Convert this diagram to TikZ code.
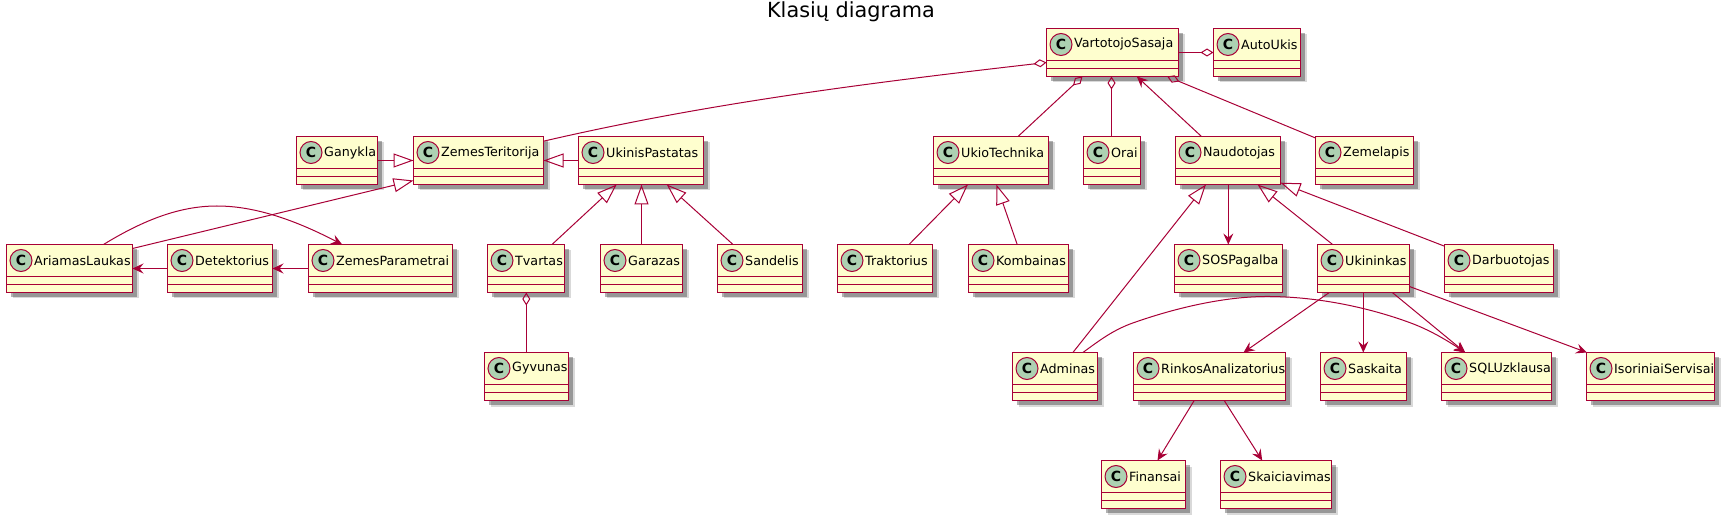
\documentclass[tikz,border=0pt]{standalone}
\usepackage{fontspec}
\setmainfont{DejaVu Sans}
\usetikzlibrary{arrows.meta,shadows}
\definecolor{umlred}{HTML}{A80036}
\definecolor{umlfill}{HTML}{FEFECE}
\definecolor{umlmark}{HTML}{ADD1B2}
\tikzset{
  classbox/.style={draw=umlred,line width=1.8pt,fill=umlfill,anchor=north west,inner sep=0pt,outer sep=0pt,minimum height=48pt,
    drop shadow={shadow xshift=6pt,shadow yshift=-6pt,fill=black,opacity=0.15},
    drop shadow={shadow xshift=4.5pt,shadow yshift=-4.5pt,fill=black,opacity=0.3}},
  classmark/.style={draw=umlred,line width=1pt,fill=umlmark,circle,minimum size=22pt,inner sep=0pt,font=\fontsize{14}{16}\selectfont\bfseries},
  classname/.style={anchor=west,inner sep=0pt,font=\fontsize{12.7}{16}\selectfont},
  classline/.style={draw=umlred,line width=1.8pt},
  aggr/.style={arrows={{Diamond[open,length=13pt,width=8pt]}-}},
  gen/.style={arrows={-{Triangle[open,length=20pt,width=14pt]}}},
  assoc/.style={arrows={-{Stealth[length=11pt,width=10pt,inset=4pt]}}},
}
\newcommand{\umlclass}[4]{
  \node[classbox,minimum width=#4pt] (#1) at (#2,#3) {};
  \node[classmark] (#1C) at ([xshift=14.5pt,yshift=-16pt]#1.north west) {C};
  \node[classname] (#1T) at ([xshift=27.5pt,yshift=-16pt]#1.north west) {#1};
  \draw[classline] ([yshift=-32pt]#1.north west) -- ([yshift=-32pt]#1.north east);
  \draw[classline] ([yshift=-40pt]#1.north west) -- ([yshift=-40pt]#1.north east);
}
\begin{document}
\begin{tikzpicture}[x=1pt,y=-1pt]
  \useasboundingbox (0,0) rectangle (1724,518);
  \node[font=\fontsize{20.8}{22}\selectfont] (title) at (851,12) {Klasių diagrama};
  % top rows
  \umlclass{VartotojoSasaja}{1046.5}{28.5}{132}
  \umlclass{AutoUkis}{1213.5}{28.5}{87}
  \umlclass{Ganykla}{296.5}{136.5}{81}
  \umlclass{ZemesTeritorija}{413.5}{136.5}{130}
  \umlclass{UkinisPastatas}{578.5}{136.5}{125}
  \umlclass{UkioTechnika}{933.5}{136.5}{115}
  \umlclass{Orai}{1083.5}{136.5}{57}
  \umlclass{Naudotojas}{1175.5}{136.5}{105}
  \umlclass{Zemelapis}{1315.5}{136.5}{98}
  % middle row
  \umlclass{AriamasLaukas}{6.5}{244.5}{126}
  \umlclass{Detektorius}{167.5}{244.5}{105}
  \umlclass{ZemesParametrai}{308.5}{244.5}{144}
  \umlclass{Tvartas}{487.5}{244.5}{77}
  \umlclass{Garazas}{600.5}{244.5}{82}
  \umlclass{Sandelis}{717.5}{244.5}{85}
  \umlclass{Traktorius}{837.5}{244.5}{95}
  \umlclass{Kombainas}{968.5}{244.5}{100}
  \umlclass{SOSPagalba}{1174.5}{244.5}{108}
  \umlclass{Ukininkas}{1317.5}{244.5}{92}
  \umlclass{Darbuotojas}{1444.5}{244.5}{109}
  % lower rows
  \umlclass{Gyvunas}{484.5}{352.5}{84}
  \umlclass{Adminas}{1012.5}{352.5}{85}
  \umlclass{RinkosAnalizatorius}{1133.5}{352.5}{152}
  \umlclass{Saskaita}{1320.5}{352.5}{86}
  \umlclass{SQLUzklausa}{1441.5}{352.5}{110}
  \umlclass{IsoriniaiServisai}{1586.5}{352.5}{128}
  \umlclass{Finansai}{1101.5}{460.5}{84}
  \umlclass{Skaiciavimas}{1220.5}{460.5}{111}
  \begin{scope}[every edge/.style={draw=umlred,line width=1pt}]
  % aggregation
  \path ([xshift=36pt]VartotojoSasaja.south west) edge[aggr] ([xshift=84.5pt]UkioTechnika.north west);
  \path ([xshift=65pt]VartotojoSasaja.south west) edge[aggr] ([xshift=28pt]Orai.north west);
  \path ([xshift=120.7pt]VartotojoSasaja.south west) edge[aggr] ([xshift=0.5pt,yshift=-1.7pt]Zemelapis.north west);
  \path ([yshift=-24pt]AutoUkis.north west) edge[aggr] ([yshift=-24pt]VartotojoSasaja.north east);
  \path ([xshift=38.8pt]Tvartas.south west) edge[aggr] ([xshift=41.8pt]Gyvunas.north west);
  % generalization
  \path ([yshift=-24pt]Ganykla.north east) edge[gen] ([yshift=-24pt]ZemesTeritorija.north west);
  \path ([yshift=-24pt]UkinisPastatas.north west) edge[gen] ([yshift=-24pt]ZemesTeritorija.north east);
  \path ([yshift=-4pt]AriamasLaukas.north east) edge[gen] ([yshift=4pt]ZemesTeritorija.south west);
  \path ([xshift=64.5pt]Tvartas.north west) edge[gen] ([xshift=38.2pt]UkinisPastatas.south west);
  \path ([xshift=41pt]Garazas.north west) edge[gen] ([xshift=63pt]UkinisPastatas.south west);
  \path ([xshift=15.5pt]Sandelis.north west) edge[gen] ([xshift=88.2pt]UkinisPastatas.south west);
  \path ([xshift=71.5pt]Traktorius.north west) edge[gen] ([xshift=34.5pt]UkioTechnika.south west);
  \path ([xshift=48.7pt]Kombainas.north west) edge[gen] ([xshift=62.9pt]UkioTechnika.south west);
  \path ([xshift=60.4pt]Adminas.north west) edge[gen] ([xshift=30.5pt]Naudotojas.south west);
  \path ([xshift=15.1pt]Ukininkas.north west) edge[gen] ([xshift=82pt]Naudotojas.south west);
  \path ([yshift=-1.7pt]Darbuotojas.north west) edge[gen] ([yshift=1.8pt]Naudotojas.south east);
  % association
  \path ([xshift=26pt]Naudotojas.north west) edge[assoc] ([xshift=90.3pt]VartotojoSasaja.south west);
  \path ([yshift=-24pt]Detektorius.north west) edge[assoc] ([yshift=-24pt]AriamasLaukas.north east);
  \path ([yshift=-24pt]ZemesParametrai.north west) edge[assoc] ([yshift=-24pt]Detektorius.north east);
  \path ([xshift=52.8pt]Naudotojas.south west) edge[assoc] ([xshift=53.8pt]SOSPagalba.north west);
  \path ([xshift=11.8pt]Ukininkas.south west) edge[assoc] ([xshift=110pt]RinkosAnalizatorius.north west);
  \path ([xshift=45.8pt]Ukininkas.south west) edge[assoc] ([xshift=42.8pt]Saskaita.north west);
  \path ([xshift=74.8pt]Ukininkas.south west) edge[assoc] ([xshift=23.7pt]SQLUzklausa.north west);
  \path ([yshift=6pt]Ukininkas.south east) edge[assoc] ([xshift=0.4pt]IsoriniaiServisai.north west);
  \path ([xshift=60.7pt]RinkosAnalizatorius.south west) edge[assoc] ([xshift=56pt]Finansai.north west);
  \path ([xshift=90.7pt]RinkosAnalizatorius.south west) edge[assoc] ([xshift=41.7pt]Skaiciavimas.north west);
  \end{scope}
  % curved connectors
  \draw[umlred,line width=1pt,aggr] ([yshift=-34pt]VartotojoSasaja.north west) .. controls (850,85) and (700,105) .. ([yshift=-4.7pt]ZemesTeritorija.north east);
  \draw[umlred,line width=1pt,assoc] ([xshift=97pt]AriamasLaukas.north west) .. controls (150,216) and (185,206) .. (217,206) .. controls (255,206) and (295,220) .. ([xshift=33.7pt]ZemesParametrai.north west);
  \draw[umlred,line width=1pt,assoc] ([xshift=70.4pt]Adminas.north west) .. controls (1100,340) and (1112,331) .. (1130,324) .. controls (1180,306) and (1230,296) .. (1270,296.5) .. controls (1320,297) and (1370,308) .. (1410,322.7) .. controls (1430,330) and (1448,341) .. ([xshift=23.7pt]SQLUzklausa.north west);
\end{tikzpicture}
\end{document}
